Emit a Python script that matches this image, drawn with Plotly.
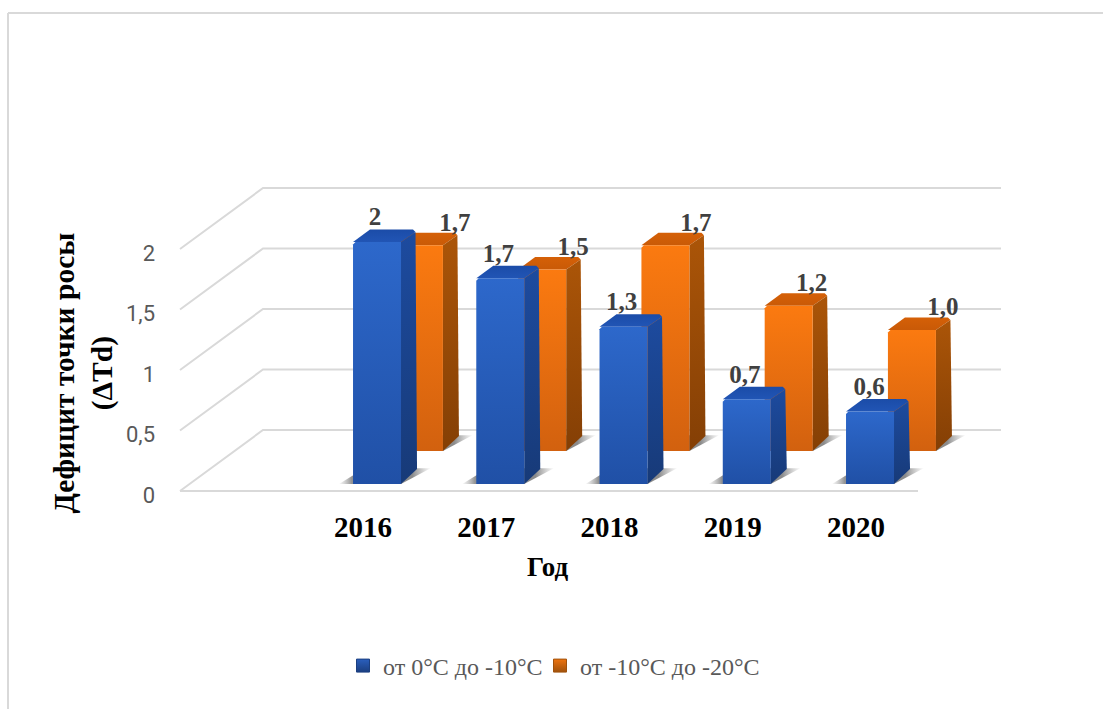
import plotly.graph_objects as go

years = ["2016", "2017", "2018", "2019", "2020"]
blue_values = [2.0, 1.7, 1.3, 0.7, 0.6]
orange_values = [1.7, 1.5, 1.7, 1.2, 1.0]
blue_labels = ["2", "1,7", "1,3", "0,7", "0,6"]
orange_labels = ["1,7", "1,5", "1,7", "1,2", "1,0"]
y_ticks = [0, 0.5, 1, 1.5, 2]
y_tick_labels = ["0", "0,5", "1", "1,5", "2"]
blue_name = "от 0°C до -10°C"
orange_name = "от -10°C до -20°C"

# layout in pixels of the 1103x709 page
W, H = 1103, 709
L, R, T, B = 170, 1010, 170, 507
PX_X = 123.25     # pixels per category
PX_Y = 121.0      # pixels per value unit
X0_PX = 343.5     # front-plane pixel of the first bar's left edge
Y0_PX = 491.0

DX = 83 / PX_X    # oblique projection of the full floor depth
DY = 61 / PX_Y
BAR_W = 48 / PX_X
SIDE_X = 14.5 / PX_X
SIDE_Y = 12.5 / PX_Y
CX = 2.5 / PX_X   # small rounding of bar corners
CY = 2.5 / PX_Y
BLUE_DEPTH = 7 / 61
ORANGE_DEPTH = 40 / 61
ORANGE_SHIFT = -3 / PX_X
FLOOR_L = (180 - X0_PX) / PX_X
FLOOR_R = (918 - X0_PX) / PX_X
BLUE_LABEL_DX = [22, 22, 22, 22, 23]
ORANGE_LABEL_DX = [60, 55, 54.5, 47, 55]


def proj(x, v, d):
    return x + d * DX, v + d * DY


def poly(points):
    xs, ys = zip(*points)
    return list(xs) + [xs[0]], list(ys) + [ys[0]]


fig = go.Figure()
GRID = "#d9d9d9"


def add_line(points):
    xs = [p[0] for p in points]
    ys = [p[1] for p in points]
    fig.add_trace(go.Scatter(x=xs, y=ys, mode="lines", line=dict(color=GRID, width=2),
                             showlegend=False, hoverinfo="skip"))


for t in y_ticks:
    pts = [proj(FLOOR_L, t, 0), proj(FLOOR_L, t, 1), proj(FLOOR_R, t, 1)]
    add_line(pts)
add_line([proj(FLOOR_L, 0, 0), proj(FLOOR_R, 0, 0)])


def add_face(points, top, bottom):
    xs, ys = poly(points)
    fig.add_trace(go.Scatter(
        x=xs, y=ys, mode="lines", fill="toself", line=dict(width=0, color="rgba(0,0,0,0)"),
        fillgradient=dict(type="vertical", start=min(ys), stop=max(ys),
                          colorscale=[[0, bottom], [1, top]]),
        showlegend=False, hoverinfo="skip"))


def add_shadow(x, d):
    dt = d + 0.26
    p = [proj(x - 14 / PX_X, 0, d), proj(x + BAR_W, 0, d), proj(x + BAR_W + 8 / PX_X, 0, dt),
         proj(x - 10 / PX_X, 0, dt)]
    xs, ys = poly(p)
    fig.add_trace(go.Scatter(
        x=xs, y=ys, mode="lines", fill="toself", line=dict(width=0, color="rgba(0,0,0,0)"),
        fillgradient=dict(type="horizontal", start=min(xs), stop=max(xs),
                          colorscale=[[0, "rgba(150,150,150,0.05)"], [0.14, "rgba(110,110,110,0.75)"],
                                      [0.8, "rgba(110,110,110,0.8)"], [1, "rgba(150,150,150,0.05)"]]),
        showlegend=False, hoverinfo="skip"))


def add_bar(x, v, d, c):
    xf, vf = proj(x, v, d)
    xb, vb = proj(x, 0, d)
    x1 = xf + BAR_W
    # top face
    add_face([(xf + CX, vf), (x1, vf), (x1 + SIDE_X, vf + SIDE_Y - CY), (x1 + SIDE_X - CX, vf + SIDE_Y),
              (xf + SIDE_X + CX, vf + SIDE_Y), (xf, vf + CY * 0)], c["top1"], c["top0"])
    # side face
    add_face([(x1, vb), (x1 + SIDE_X + 1.5 / PX_X, vb + SIDE_Y + 2.5 / PX_Y),
              (x1 + SIDE_X, vf + SIDE_Y - CY), (x1, vf)], c["side1"], c["side0"])
    # front face
    add_face([(xf, vb), (x1, vb), (x1, vf), (xf + CX, vf), (xf, vf - CY)], c["front1"], c["front0"])


BLUE = dict(front1="#2d68cb", front0="#2050a6", side1="#1d4b9f", side0="#173a78",
            top1="#1b4ca8", top0="#2155b5")
ORANGE = dict(front1="#fb7a10", front0="#d2610f", side1="#ab5508", side0="#843f05",
              top1="#d56007", top0="#c95a07")

for i, v in enumerate(orange_values):
    add_shadow(i + ORANGE_SHIFT, ORANGE_DEPTH)
for i, v in enumerate(orange_values):
    add_bar(i + ORANGE_SHIFT, v, ORANGE_DEPTH, ORANGE)
for i, v in enumerate(blue_values):
    add_shadow(i, BLUE_DEPTH)
for i, v in enumerate(blue_values):
    add_bar(i, v, BLUE_DEPTH, BLUE)

# data labels, through the same projection
bx = [proj(i, v, BLUE_DEPTH)[0] + BLUE_LABEL_DX[i] / PX_X for i, v in enumerate(blue_values)]
by = [proj(i, v, BLUE_DEPTH)[1] + 23 / PX_Y for i, v in enumerate(blue_values)]
ox = [proj(i + ORANGE_SHIFT, v, ORANGE_DEPTH)[0] + ORANGE_LABEL_DX[i] / PX_X for i, v in enumerate(orange_values)]
oy = [proj(i, v, ORANGE_DEPTH)[1] + 21 / PX_Y for i, v in enumerate(orange_values)]
LABEL_FONT = dict(family="Liberation Serif", size=25, color="#404040", weight="bold")
fig.add_trace(go.Scatter(x=bx, y=by, text=blue_labels, mode="text", textposition="middle center",
                         textfont=LABEL_FONT, showlegend=False, hoverinfo="skip", cliponaxis=False))
fig.add_trace(go.Scatter(x=ox, y=oy, text=orange_labels, mode="text", textposition="middle center",
                         textfont=LABEL_FONT, showlegend=False, hoverinfo="skip", cliponaxis=False))

# legend entries
for name, col, edge, lg in [(blue_name, "#2a5fbd", "#1b3f80", "legend"),
                            (orange_name, "#ee7410", "#a0520c", "legend2")]:
    fig.add_trace(go.Scatter(x=[None], y=[None], mode="markers", name=name, legend=lg,
                             marker=dict(symbol="square", size=13, color=col,
                                         gradient=dict(type="vertical", color=edge),
                                         line=dict(color=edge, width=1))))


def px(xp):
    return (xp - L) / (R - L)


def py(yp):
    return (B - yp) / (B - T)


LEGEND_FONT = dict(family="Liberation Serif", size=24, color="#595959")


def legend_at(xp):
    return dict(orientation="h", x=px(xp), y=py(666), xanchor="left", yanchor="middle",
                font=LEGEND_FONT, bgcolor="rgba(0,0,0,0)", itemclick=False, itemdoubleclick=False)


fig.update_layout(
    width=W, height=H, autosize=False,
    margin=dict(l=L, r=W - R, t=T, b=H - B),
    paper_bgcolor="white", plot_bgcolor="rgba(0,0,0,0)",
    xaxis=dict(range=[(L - X0_PX) / PX_X, (R - X0_PX) / PX_X], showgrid=False, zeroline=False, showline=False,
               tickmode="array", tickvals=[i + (363 - X0_PX) / PX_X for i in range(len(years))],
               ticktext=years, ticks="", fixedrange=True,
               tickfont=dict(family="Liberation Serif", size=29, color="#000000", weight="bold")),
    yaxis=dict(range=[(Y0_PX - B) / PX_Y, (Y0_PX - T) / PX_Y], showgrid=False, zeroline=False, showline=False,
               tickmode="array", tickvals=[t - 4 / PX_Y for t in y_ticks], ticktext=y_tick_labels,
               ticks="", fixedrange=True, ticklabelstandoff=14,
               tickfont=dict(family="Roboto", size=22, color="#595959")),
    showlegend=True,
    legend=legend_at(343),
    legend2=legend_at(540),
    shapes=[
        dict(type="line", xref="paper", yref="paper", x0=px(8), x1=px(8), y0=py(13), y1=py(709),
             line=dict(color=GRID, width=2)),
        dict(type="line", xref="paper", yref="paper", x0=px(8), x1=px(1103), y0=py(13), y1=py(13),
             line=dict(color=GRID, width=2)),
    ],
    annotations=[
        dict(xref="paper", yref="paper", x=px(82.5), y=py(373), xanchor="center", yanchor="middle",
             text="Дефицит точки росы<br>(ΔTd)", textangle=-90,
             showarrow=False, align="center",
             font=dict(family="Liberation Serif", size=29.5, color="#000000", weight="bold")),
        dict(xref="paper", yref="paper", x=px(548), y=py(567), xanchor="center", yanchor="middle",
             text="Год", showarrow=False,
             font=dict(family="Liberation Serif", size=27, color="#000000", weight="bold")),
    ],
)

fig.write_html("out.html", config=dict(displayModeBar=False),
               post_script="document.body.style.margin='0';document.documentElement.style.overflow='hidden';")
